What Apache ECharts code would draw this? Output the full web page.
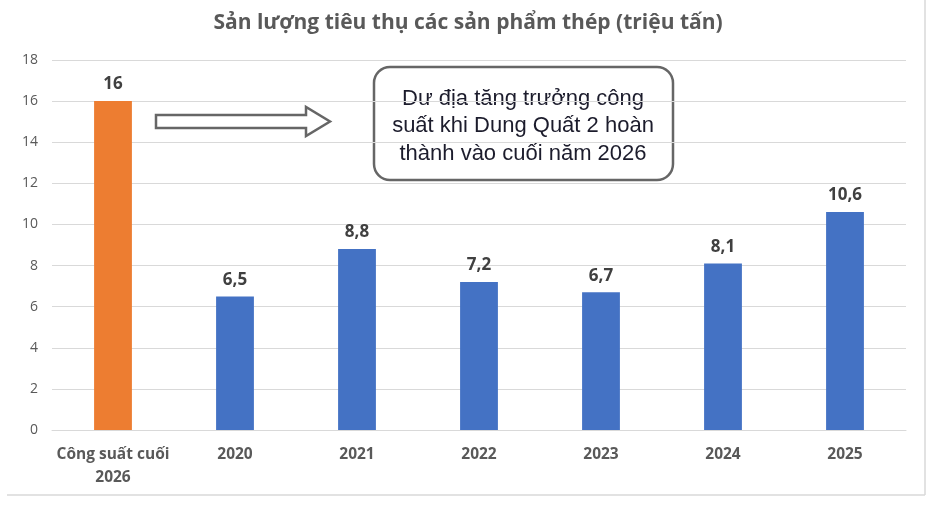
<!DOCTYPE html>
<html>
<head>
<meta charset="UTF-8">
<title>Sản lượng tiêu thụ các sản phẩm thép</title>
<script src="https://cdn.jsdelivr.net/npm/echarts@6/dist/echarts.min.js"></script>
<style>
  html, body { margin: 0; padding: 0; background: #fff; }
  #chartmain { width: 936px; height: 508px; }
</style>
</head>
<body>
<div id="chartmain"></div>
<script>
// du lieu doc tu hinh
var categories = ['Công suất cuối\n2026', '2020', '2021', '2022', '2023', '2024', '2025'];
var values = [16, 6.5, 8.8, 7.2, 6.7, 8.1, 10.6];
var barColors = ['#ED7D31', '#4472C4', '#4472C4', '#4472C4', '#4472C4', '#4472C4', '#4472C4'];
var yTicks = [0, 2, 4, 6, 8, 10, 12, 14, 16, 18];
var noteLines = ['Dư địa tăng trưởng công', 'suất khi Dung Quất 2 hoàn', 'thành vào cuối năm 2026'];

var mychart = echarts.init(document.getElementById('chartmain'));

var barData = [];
for (var i = 0; i < values.length; i++) {
    barData.push({ value: values[i], itemStyle: { color: barColors[i] } });
}

var option = {
    animation: false,
    title: {
        text: 'Sản lượng tiêu thụ các sản phẩm thép (triệu tấn)',
        left: 'center',
        top: 8,
        textStyle: { fontFamily: 'Open Sans', fontSize: 21, fontWeight: 'bold', color: '#595959' }
    },
    grid: { left: 52, right: 30, top: 60, bottom: 78 },
    xAxis: {
        type: 'category',
        data: categories,
        axisTick: { show: false },
        axisLine: { lineStyle: { color: '#d9d9d9', width: 1 } },
        axisLabel: {
            interval: 0,
            margin: 13,
            fontFamily: 'Open Sans',
            fontSize: 15.5,
            fontWeight: 'bold',
            color: '#595959',
            lineHeight: 23
        }
    },
    yAxis: {
        type: 'value',
        min: yTicks[0],
        max: yTicks[yTicks.length - 1],
        interval: 2,
        axisLine: { show: false },
        axisTick: { show: false },
        splitLine: { lineStyle: { color: '#d9d9d9', width: 1 } },
        axisLabel: { margin: 14, fontFamily: 'Open Sans', fontSize: 14, color: '#595959' }
    },
    series: [{
        type: 'bar',
        data: barData,
        barWidth: '31%',
        label: {
            show: true,
            position: 'top',
            distance: 8,
            fontFamily: 'Open Sans',
            fontSize: 17,
            fontWeight: 'bold',
            color: '#404040',
            formatter: function (p) { return String(p.value).replace('.', ','); }
        }
    }],
    graphic: [
        // vien khung
        { type: 'line', shape: { x1: 7, y1: 495, x2: 925, y2: 495 }, style: { stroke: '#d9d9d9', lineWidth: 1.5 } },
        { type: 'line', shape: { x1: 925, y1: 0, x2: 925, y2: 495 }, style: { stroke: '#d9d9d9', lineWidth: 1.5 } },
        // mui ten
        {
            type: 'polygon',
            shape: { points: [[156, 115], [306, 115], [306, 107], [330, 121.5], [306, 136], [306, 128], [156, 128]] },
            style: { fill: '#fff', stroke: '#666', lineWidth: 2.5 }
        },
        // hop ghi chu
        {
            type: 'rect',
            shape: { x: 374, y: 67, width: 299, height: 113, r: 16 },
            style: { fill: '#fff', stroke: '#666', lineWidth: 2.5 }
        },
        {
            type: 'text',
            x: 523, y: 126,
            style: {
                text: noteLines.join('\n'),
                align: 'center',
                verticalAlign: 'middle',
                fontFamily: 'Liberation Sans',
                fontSize: 22,
                lineHeight: 27.5,
                fill: '#1c1c2c'
            }
        }
    ]
};
mychart.setOption(option);
</script>
</body>
</html>
